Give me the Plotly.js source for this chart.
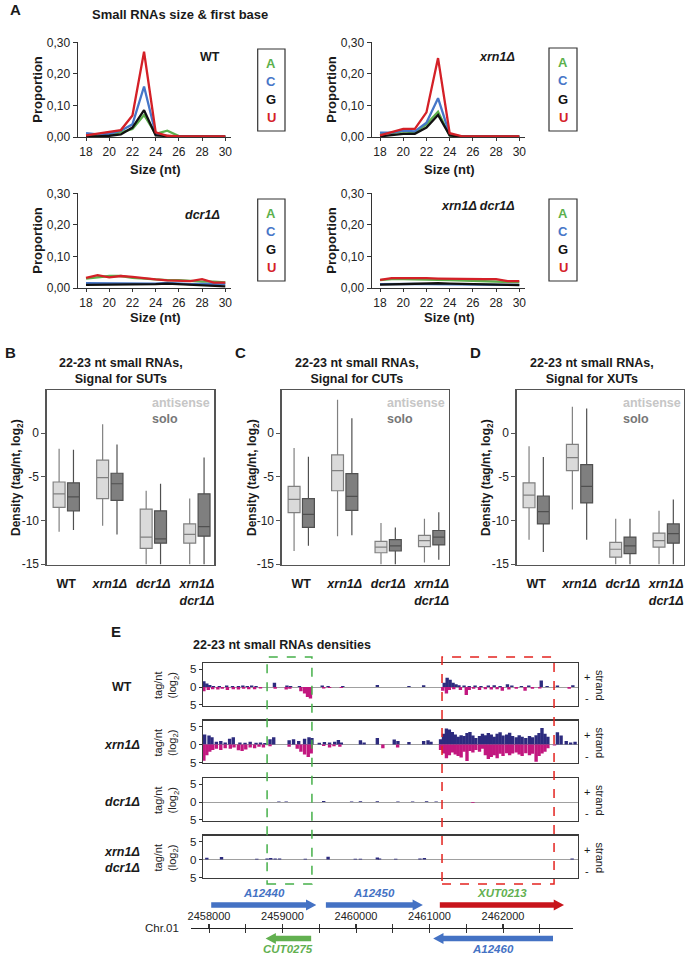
<!DOCTYPE html>
<html><head><meta charset="utf-8">
<script src="https://cdn.plot.ly/plotly-3.0.1.min.js"></script>
<style>html,body{margin:0;padding:0;background:#fff}#plot{width:685px;height:954px}</style>
</head><body><div id="plot"></div>
<script>
// ---------------- Panel A data ----------------
const sizes=[18,19,20,21,22,23,24,25,26,27,28,29,30];
const baseNames=['A','C','G','U'];
const wtA=[0.005,0.005,0.010,0.015,0.025,0.070,0.010,0.020,0.003,0.002,0.002,0.001,0.001];
const wtC=[0.012,0.008,0.010,0.020,0.040,0.160,0.010,0.003,0.002,0.001,0.001,0.001,0.001];
const wtG=[0.003,0.002,0.004,0.008,0.030,0.085,0.005,0.002,0.001,0.001,0.001,0.001,0.001];
const wtU=[0.005,0.010,0.015,0.022,0.068,0.270,0.015,0.004,0.002,0.002,0.002,0.002,0.002];
const xrnA=[0.012,0.012,0.018,0.015,0.040,0.080,0.005,0.001,0.001,0.001,0.001,0.001,0.001];
const xrnC=[0.014,0.014,0.020,0.018,0.045,0.123,0.008,0.002,0.001,0.001,0.001,0.001,0.001];
const xrnG=[0.002,0.005,0.010,0.010,0.030,0.070,0.005,0.001,0.001,0.001,0.001,0.001,0.001];
const xrnU=[0.005,0.015,0.026,0.026,0.078,0.250,0.012,0.003,0.002,0.002,0.002,0.002,0.002];
const dcrA=[0.030,0.035,0.038,0.038,0.032,0.030,0.027,0.025,0.025,0.022,0.020,0.020,0.018];
const dcrC=[0.015,0.015,0.014,0.014,0.013,0.013,0.014,0.016,0.014,0.012,0.013,0.013,0.012];
const dcrG=[0.010,0.010,0.010,0.010,0.010,0.010,0.012,0.014,0.012,0.010,0.008,0.008,0.005];
const dcrU=[0.032,0.041,0.034,0.038,0.035,0.030,0.027,0.024,0.022,0.022,0.028,0.017,0.017];
const dxA=[0.025,0.028,0.028,0.028,0.027,0.026,0.025,0.024,0.023,0.022,0.022,0.019,0.018];
const dxC=[0.012,0.013,0.014,0.013,0.012,0.012,0.011,0.011,0.011,0.011,0.011,0.010,0.010];
const dxG=[0.011,0.012,0.013,0.013,0.014,0.015,0.014,0.013,0.013,0.012,0.011,0.010,0.009];
const dxU=[0.026,0.031,0.031,0.032,0.031,0.030,0.029,0.028,0.028,0.028,0.028,0.022,0.022];

// ---------------- Panels B-D data: [lowerfence, q1, median, q3, upperfence] per genotype
const boxCats=['WT','xrn1Δ','dcr1Δ','xrn1Δ dcr1Δ'];
const boxCatLabels=['<b>WT</b>','<b><i>xrn1Δ</i></b>','<b><i>dcr1Δ</i></b>','<b><i>xrn1Δ</i><br><i>dcr1Δ</i></b>'];
const sutAntisense=[[-11.3,-8.5,-6.95,-5.6,-1.8],[-10.6,-7.5,-5.1,-3.1,1.0],[-15.0,-13.2,-11.9,-8.7,-6.6],[-15.0,-12.6,-11.6,-10.4,-7.5]];
const sutSolo=[[-11.1,-8.9,-7.3,-5.7,-1.9],[-11.6,-7.7,-5.8,-4.6,-1.3],[-15.0,-12.6,-12.1,-8.9,-5.8],[-15.0,-11.8,-10.7,-6.95,-2.8]];
const cutAntisense=[[-13.5,-9.1,-7.6,-6.1,-1.7],[-11.8,-6.6,-4.3,-2.5,3.8],[-15.0,-13.7,-13.05,-12.4,-10.3],[-14.8,-13.0,-12.3,-11.7,-9.8]];
const cutSolo=[[-12.9,-10.8,-9.3,-7.5,-2.7],[-11.7,-8.85,-7.25,-4.65,1.7],[-15.0,-13.5,-12.9,-12.2,-10.8],[-14.5,-12.8,-11.9,-11.15,-9.05]];
const xutAntisense=[[-12.2,-8.55,-7.1,-5.7,-1.5],[-8.75,-4.3,-2.8,-1.3,3.0],[-15.0,-14.2,-13.3,-12.5,-9.8],[-15.0,-13.05,-12.3,-11.45,-8.9]];
const xutSolo=[[-13.6,-10.4,-9.0,-7.2,-2.75],[-12.2,-8.0,-6.1,-3.6,2.8],[-15.0,-13.8,-12.9,-11.9,-9.8],[-15.0,-12.6,-11.5,-10.4,-7.6]];

// ---------------- Panel E data (genomic position bp, log2 tag/nt) ----------------
const wtPlusPos=[2457930,2457970,2458010,2458060,2458140,2458240,2458320,2458400,2458460,2458520,2458580,2458640,2458890,2459060,2459110,2459230,2459540,2459620,2459820,2460290,2460720,2460920,2461200,2461240,2461280,2461320,2461360,2461400,2461470,2461540,2461620,2461700,2461800,2461880,2461960,2462060,2462120,2462250,2462350,2462520,2462600,2462740,2462950];
const wtPlusVal=[1.6,1.0,0.6,0.3,0.3,0.4,0.3,0.3,0.4,0.3,0.4,0.3,1.2,0.4,0.3,0.3,0.4,0.3,0.3,0.6,0.3,0.5,1.2,2.6,2.0,1.2,0.8,0.5,0.4,0.3,0.4,0.3,0.4,0.5,0.3,0.8,0.4,0.3,0.4,1.8,0.3,0.4,0.5];
const wtMinusPos=[2457930,2457990,2458050,2458120,2458180,2458250,2458330,2458400,2458470,2458540,2458620,2458700,2458900,2459050,2459100,2459250,2459300,2459340,2459380,2459560,2459640,2459800,2461180,2461230,2461270,2461330,2461420,2461500,2461540,2461600,2461680,2461760,2461840,2461920,2461990,2462080,2462180,2462300,2462400,2462500,2462900];
const wtMinusVal=[1.2,0.8,0.6,0.7,0.5,0.8,0.6,0.7,0.5,0.6,0.6,0.4,0.5,0.7,0.5,1.2,1.8,2.8,3.2,0.4,0.3,0.3,1.0,1.8,0.8,0.6,0.8,2.2,0.8,0.5,0.8,0.6,0.7,0.6,1.0,0.7,0.5,1.0,0.5,0.4,0.5];
const xrnPlusPos=[2457940,2458000,2458040,2458100,2458160,2458220,2458280,2458330,2458420,2458490,2458560,2458640,2458700,2458760,2458830,2458880,2459090,2459150,2459220,2459300,2459360,2459400,2459500,2459570,2459640,2459710,2459760,2459800,2460060,2460110,2460290,2460520,2460570,2460720,2460920,2460980,2461020,
 2461150,2461190,2461230,2461270,2461310,2461350,2461390,2461430,2461470,2461510,2461550,2461590,2461630,2461680,2461720,2461760,2461800,2461840,2461880,2461920,2461960,2462000,2462050,2462090,2462130,2462180,2462220,2462260,2462310,2462360,2462400,2462450,2462490,2462530,2462570,2462610,
 2462740,2462790,2462860,2462920,2462980];
const xrnPlusVal=[2.8,2.5,2.0,0.8,1.0,0.6,1.6,2.0,0.6,0.5,0.8,0.5,0.6,0.4,1.5,2.0,1.2,1.5,1.0,1.6,2.0,1.8,0.5,0.7,0.6,0.8,1.3,0.6,1.2,0.6,1.8,1.4,1.0,0.7,1.0,1.2,0.8,
 1.5,3.0,4.5,4.2,3.5,2.8,2.2,2.6,2.4,3.2,3.5,2.5,1.8,2.4,3.0,2.6,3.2,2.8,2.2,3.0,3.4,2.5,2.8,3.3,2.4,2.0,2.6,2.2,1.8,2.4,2.0,2.6,3.2,4.6,3.0,2.2,
 3.4,2.5,1.0,0.6,0.8];
const xrnMinusPos=[2457930,2457970,2458010,2458050,2458100,2458160,2458220,2458290,2458340,2458400,2458450,2458500,2458560,2458620,2458680,2458740,2458830,2459090,2459200,2459250,2459300,2459350,2459390,2459560,2459640,2459700,2459780,2460365,2460566,
 2461150,2461190,2461230,2461270,2461310,2461350,2461390,2461430,2461470,2461510,2461550,2461590,2461630,2461680,2461720,2461760,2461800,2461840,2461880,2461920,2461960,2462000,2462050,2462090,2462130,2462180,2462220,2462260,2462310,2462360,2462400,2462450,2462490,2462530,2462570,2462610,2462700];
const xrnMinusVal=[4.5,3.0,2.0,1.5,1.2,1.5,1.0,1.2,0.8,1.6,1.8,1.4,0.8,1.0,0.6,0.8,0.5,0.6,1.2,2.0,2.8,3.5,2.5,0.4,0.8,0.5,0.6,1.0,0.8,
 1.5,2.5,3.8,3.0,2.2,2.8,3.2,3.6,2.0,4.6,1.8,2.2,1.5,2.0,1.2,3.0,4.0,3.5,3.0,3.8,2.6,3.2,2.4,3.0,2.5,2.2,2.8,3.2,2.4,3.0,2.6,4.8,3.2,2.5,2.0,1.0,0.3];
const dcrPlusPos=[2458950,2459050,2459560,2459940,2460060,2460290,2460570,2460770,2460960,2461090];
const dcrPlusVal=[0.15,0.15,0.3,0.15,0.2,0.25,0.15,0.15,0.2,0.15];
const dcrMinusPos=[2461590];
const dcrMinusVal=[0.2];
const dxPlusPos=[2457970,2458170,2458650,2458790,2458840,2458900,2458960,2459310,2459620,2459990,2460060,2460290,2460320,2460540,2460870,2460930,2462940];
const dxPlusVal=[0.5,0.7,0.2,0.3,0.4,0.3,0.3,0.2,0.8,0.2,0.2,0.6,0.3,0.2,0.3,0.4,0.3];
const dxMinusPos=[];
const dxMinusVal=[];

const geneNames=['A12440','A12450','XUT0213','CUT0275','A12460'];
const geneStart=[2458030,2459590,2461140,2458770,2461050];
const geneEnd=[2459460,2460910,2462830,2459390,2462680];
const geneStrand=['+','+','+','-','-'];
const regionStart=[2458790,2461170];
const regionEnd=[2459400,2462694];
const rulerTicks=[2458000,2459000,2460000,2461000,2462000];

// ---------------- helpers ----------------
const W=685,H=954;
const PX=x=>x/W, PY=y=>1-y/H;
const FONT='"Liberation Sans", Arial, Helvetica, sans-serif';
const traces=[], ann=[], shapes=[];
const layout={width:W,height:H,margin:{l:0,r:0,t:0,b:0},paper_bgcolor:'#fff',plot_bgcolor:'rgba(0,0,0,0)',
  showlegend:false,separators:',.',font:{family:FONT,size:12,color:'#222'},
  boxmode:'group',boxgap:0.34,boxgroupgap:0.17,barmode:'overlay'};
const xk=n=>n===1?'xaxis':'xaxis'+n, yk=n=>n===1?'yaxis':'yaxis'+n;
const xr=n=>n===1?'x':'x'+n, yr=n=>n===1?'y':'y'+n;
function T(text,x,y,size,color,xanchor,angle){
  ann.push({text:text,x:PX(x),y:PY(y),xref:'paper',yref:'paper',showarrow:false,
    xanchor:xanchor||'center',yanchor:'middle',textangle:angle||0,
    font:{family:FONT,size:size||12.5,color:color||'#1a1a1a'}});
}
function rect(x0,y0,x1,y1,color,width){
  shapes.push({type:'rect',xref:'paper',yref:'paper',x0:PX(x0),x1:PX(x1),y0:PY(y0),y1:PY(y1),
    line:{color:color,width:width},fillcolor:'rgba(0,0,0,0)'});
}

// ---------------- Panel A ----------------
const baseColors=['#5cb04c','#4676c8','#111111','#d42027'];
T('<b>A</b>',16,10,15);
T('<b>Small RNAs size &amp; first base</b>',90,14,13,'#1a1a1a','left');
const aPanels=[
 {data:[wtA,wtC,wtG,wtU],x0:77.9,x1:231.1,yt:42.3,yb:137,label:'<b>WT</b>',lx:222,ly:57,box:[257.7,49,285,131],tx:38,sx:155,sy:169},
 {data:[xrnA,xrnC,xrnG,xrnU],x0:371.9,x1:525.1,yt:42.3,yb:137,label:'<b><i>xrn1Δ</i></b>',lx:517,ly:57,box:[549,48,577,131],tx:332,sx:449,sy:169},
 {data:[dcrA,dcrC,dcrG,dcrU],x0:77.9,x1:231.1,yt:193.3,yb:288,label:'<b><i>dcr1Δ</i></b>',lx:222,ly:215,box:[257.7,199,285,281],tx:38,sx:155,sy:318},
 {data:[dxA,dxC,dxG,dxU],x0:371.9,x1:525.1,yt:193.3,yb:288,label:'<b><i>xrn1Δ dcr1Δ</i></b>',lx:517,ly:206,box:[549,199,577,281],tx:332,sx:449,sy:318}
];
aPanels.forEach((p,i)=>{
  const n=i+1;
  layout[xk(n)]={domain:[PX(p.x0),PX(p.x1)],range:[17.3,30.5],anchor:yr(n),tickvals:[18,20,22,24,26,28,30],
    ticks:'outside',ticklen:3,tickcolor:'#333',showline:true,linecolor:'#333',linewidth:1.3,showgrid:false,zeroline:false,
    tickfont:{size:12,color:'#222'}};
  layout[yk(n)]={domain:[PY(p.yb),PY(p.yt)],range:[0,0.3],anchor:xr(n),tickvals:[0,0.1,0.2,0.3],tickformat:'.2f',
    ticks:'outside',ticklen:4,tickcolor:'#333',showline:true,linecolor:'#333',linewidth:1.3,showgrid:false,zeroline:false,
    tickfont:{size:12,color:'#222'}};
  p.data.forEach((vals,b)=>{
    traces.push({type:'scatter',mode:'lines',x:sizes,y:vals,xaxis:xr(n),yaxis:yr(n),
      line:{color:baseColors[b],width:2.3},hoverinfo:'skip',cliponaxis:false});
  });
  T(p.label,p.lx,p.ly,12.5,'#1a1a1a','right');
  T('<b>Proportion</b>',p.tx,(p.yt+p.yb)/2,13,'#1a1a1a','center',-90);
  T('<b>Size (nt)</b>',p.sx,p.sy,13);
  rect(p.box[0],p.box[1],p.box[2],p.box[3],'#333',1.2);
  const cx=(p.box[0]+p.box[2])/2, step=(p.box[3]-p.box[1])/4.55;
  baseNames.forEach((bn,b)=>T('<b>'+bn+'</b>',cx,p.box[1]+step*(0.8+b),13,baseColors[b]));
});

// ---------------- Panels B-D ----------------
const boxPanels=[
 {n:5,x0:46.7,x1:214.3,anti:sutAntisense,solo:sutSolo,title:'<b>22-23 nt small RNAs,<br>Signal for SUTs</b>',tx:57,letter:'<b>B</b>',lx:10,textX:150,ytx:17},
 {n:6,x0:281.7,x1:449,anti:cutAntisense,solo:cutSolo,title:'<b>22-23 nt small RNAs,<br>Signal for CUTs</b>',tx:293,letter:'<b>C</b>',lx:240,textX:385,ytx:253},
 {n:7,x0:516.7,x1:683.5,anti:xutAntisense,solo:xutSolo,title:'<b>22-23 nt small RNAs,<br>Signal for XUTs</b>',tx:528,letter:'<b>D</b>',lx:475,textX:621,ytx:487}
];
boxPanels.forEach(p=>{
  const n=p.n;
  layout[xk(n)]={domain:[PX(p.x0),PX(p.x1)],type:'category',categoryorder:'array',categoryarray:boxCats,
    range:[-0.45,3.4],anchor:yr(n),tickvals:boxCats,ticktext:boxCatLabels,ticks:'outside',ticklen:7,tickcolor:'rgba(0,0,0,0)',
    showline:true,mirror:true,linecolor:'#555',linewidth:1.3,showgrid:false,zeroline:false,tickfont:{size:12.5,color:'#1a1a1a'}};
  layout[yk(n)]={domain:[PY(565),PY(390)],range:[-15.1,4.93],anchor:xr(n),tickvals:[0,-5,-10,-15],ticktext:['0','-5','-10','-15'],
    ticks:'outside',ticklen:4,tickcolor:'#555',showline:true,mirror:true,linecolor:'#555',linewidth:1.3,showgrid:false,zeroline:false,
    tickfont:{size:12,color:'#222'}};
  [[p.anti,'anti','#dadada','#808080'],[p.solo,'solo','#7f7f7f','#505050']].forEach(([s,g,fc,lc])=>{
    traces.push({type:'box',xaxis:xr(n),yaxis:yr(n),x:boxCats,offsetgroup:g,
      lowerfence:s.map(r=>r[0]),q1:s.map(r=>r[1]),median:s.map(r=>r[2]),q3:s.map(r=>r[3]),upperfence:s.map(r=>r[4]),
      fillcolor:fc,line:{color:lc,width:1.2},whiskerwidth:0,hoverinfo:'skip'});
  });
  T(p.letter,p.lx,353,15);
  T(p.title,p.tx,371,12.5,'#1a1a1a','left');
  T('<b>antisense</b>',p.textX,403,12.5,'#c6c6c6','left');
  T('<b>solo</b>',p.textX,419,12.5,'#777777','left');
  T('<b>Density (tag/nt, log<sub>2</sub>)</b>',p.ytx,478,12,'#1a1a1a','center',-90);
});

// ---------------- Panel E ----------------
T('<b>E</b>',116,631,15);
T('<b>22-23 nt small RNAs densities</b>',191,645,12.5,'#1a1a1a','left');
const trackPanels=[
 {n:8,zero:687,label:'<b>WT</b>',pp:wtPlusPos,pv:wtPlusVal,mp:wtMinusPos,mv:wtMinusVal},
 {n:9,zero:744.5,label:'<b><i>xrn1Δ</i></b>',pp:xrnPlusPos,pv:xrnPlusVal,mp:xrnMinusPos,mv:xrnMinusVal},
 {n:10,zero:802,label:'<b><i>dcr1Δ</i></b>',pp:dcrPlusPos,pv:dcrPlusVal,mp:dcrMinusPos,mv:dcrMinusVal},
 {n:11,zero:859.5,label:'<b><i>xrn1Δ</i><br><i>dcr1Δ</i></b>',pp:dxPlusPos,pv:dxPlusVal,mp:dxMinusPos,mv:dxMinusVal}
];
const trackRange=[2457918,2463020];
trackPanels.forEach(p=>{
  const n=p.n;
  layout[xk(n)]={domain:[PX(203),PX(578)],range:trackRange,anchor:yr(n),showticklabels:false,ticks:'',
    showline:true,mirror:true,linecolor:'#3a3a3a',linewidth:1.2,showgrid:false,zeroline:false};
  layout[yk(n)]={domain:[PY(p.zero+18.7),PY(p.zero-24)],range:[-5.2,6.7],anchor:xr(n),tickvals:[5,0,-5],ticktext:['5','0','5'],
    ticks:'outside',ticklen:3,tickcolor:'#333',showline:true,mirror:true,linecolor:'#3a3a3a',linewidth:1.2,showgrid:false,
    zeroline:true,zerolinecolor:'#a0a0a0',zerolinewidth:1,tickfont:{size:11.5,color:'#222'}};
  traces.push({type:'bar',x:p.pp,y:p.pv,width:46,xaxis:xr(n),yaxis:yr(n),marker:{color:'#2d2b7e',line:{width:0}},hoverinfo:'skip'});
  traces.push({type:'bar',x:p.mp,y:p.mv.map(v=>-v),width:46,xaxis:xr(n),yaxis:yr(n),marker:{color:'#c2177f',line:{width:0}},hoverinfo:'skip'});
  T(p.label,122,p.zero,12.5);
  T('tag/nt<br>(log<sub>2</sub>)',166,p.zero-2,11,'#222','center',-90);
  T('+',587,p.zero-10,11);
  T('-',587,p.zero+11,11);
  T('strand',600,p.zero-2,11,'#222','center',90);
});
const regionColors=['#46b04a','#e3231f'];
regionStart.forEach((s,i)=>{
  shapes.push({type:'rect',xref:'x8',yref:'paper',x0:s,x1:regionEnd[i],y0:PY(884),y1:PY(657),
    line:{color:regionColors[i],width:1.5,dash:'dash'},fillcolor:'rgba(0,0,0,0)'});
});

// gene annotation + chromosome ruler
const rulerRange=[2457751,2462952];
const rulerY=928;
layout.xaxis12={domain:[PX(190.7),PX(573)],range:rulerRange,anchor:'free',position:PY(rulerY),side:'top',
  tickvals:rulerTicks,tickformat:'d',ticks:'outside',ticklen:4,tickcolor:'#333',tickwidth:1.2,
  minor:{dtick:500,tick0:2457500,ticks:'outside',ticklen:4,tickcolor:'#333',tickwidth:1},
  showline:true,linecolor:'#222',linewidth:1.2,showgrid:false,zeroline:false,tickfont:{size:11,color:'#222'}};
layout.xaxis13={overlaying:'x12',range:rulerRange,anchor:'free',position:PY(rulerY),side:'top',
  tickmode:'linear',tick0:2457500,dtick:500,ticks:'inside',ticklen:4,tickcolor:'#333',tickwidth:1,
  showticklabels:false,showline:false,showgrid:false,zeroline:false};
layout.yaxis12={domain:[0,PY(880)],range:[954,880],visible:false,anchor:'x12'};
const arrowColors=['#4472c4','#4472c4','#c8141b','#62b050','#4472c4'];
const labelColors=['#4472c4','#4472c4','#62b050','#62b050','#4472c4'];
const headLen=140, bodyH=2.8, headH=5.5;
geneNames.forEach((g,i)=>{
  const s=geneStart[i], e=geneEnd[i], plus=geneStrand[i]==='+';
  const c=plus?905:938.5;
  const xs=plus?[s,e-headLen,e-headLen,e,e-headLen,e-headLen,s,s]:[e,s+headLen,s+headLen,s,s+headLen,s+headLen,e,e];
  const ys=[c-bodyH,c-bodyH,c-headH,c,c+headH,c+bodyH,c+bodyH,c-bodyH];
  traces.push({type:'scatter',mode:'lines',fill:'toself',x:xs,y:ys,xaxis:'x12',yaxis:'y12',
    fillcolor:arrowColors[i],line:{width:0,color:arrowColors[i]},hoverinfo:'skip'});
  ann.push({text:'<b><i>'+g+'</i></b>',x:(s+e)/2,y:PY(plus?893:949),xref:'x12',yref:'paper',showarrow:false,
    xanchor:'center',yanchor:'middle',font:{family:FONT,size:11.5,color:labelColors[i]}});
});
traces.push({type:'scatter',mode:'markers',x:[],y:[],xaxis:'x13',yaxis:'y12',hoverinfo:'skip'});
T('Chr.01',181,rulerY,11.5,'#222','right');

layout.annotations=ann;
layout.shapes=shapes;
Plotly.newPlot('plot',traces,layout,{staticPlot:true,displayModeBar:false});
</script></body></html>
